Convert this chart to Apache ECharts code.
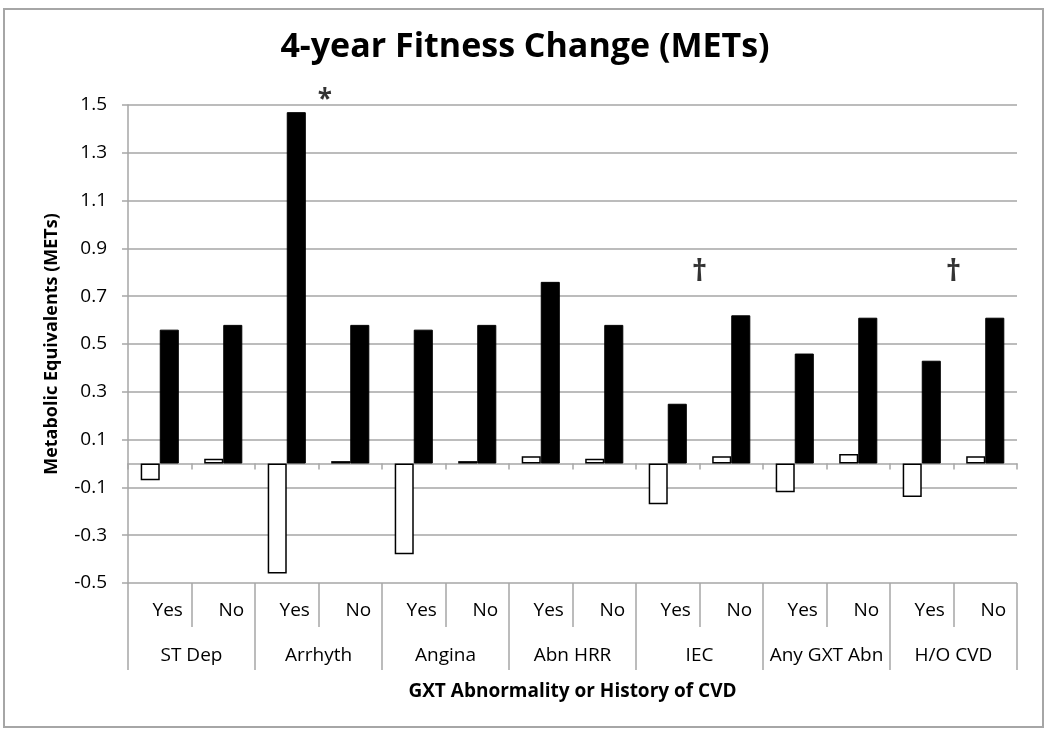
<!DOCTYPE html>
<html>
<head>
<meta charset="utf-8">
<script src="https://cdn.jsdelivr.net/npm/echarts@6/dist/echarts.min.js"></script>
<style>
  html, body { margin: 0; padding: 0; background: #fff; }
  #chart { width: 1050px; height: 740px; }
</style>
</head>
<body>
<div id="chart"></div>
<script>
// ---- data ----
const subLabels = ['Yes','No','Yes','No','Yes','No','Yes','No','Yes','No','Yes','No','Yes','No'];
const groupLabels = ['ST Dep','Arrhyth','Angina','Abn HRR','IEC','Any GXT Abn','H/O CVD'];
const whiteValues = [-0.07, 0.02, -0.46, 0.01, -0.38, 0.01, 0.03, 0.02, -0.17, 0.03, -0.12, 0.04, -0.14, 0.03];
const blackValues = [0.56, 0.58, 1.47, 0.58, 0.56, 0.58, 0.76, 0.58, 0.25, 0.62, 0.46, 0.61, 0.43, 0.61];
const yTicks = [-0.5, -0.3, -0.1, 0.1, 0.3, 0.5, 0.7, 0.9, 1.1, 1.3, 1.5];
// significance marks: position on category boundary index, value height, symbol
const markPos = [3.1, 9, 13];
const markVal = [1.52, 0.80, 0.80];
const markText = ['*', '\u2020', '\u2020'];

const FONT = "'Open Sans', sans-serif";
const GRID = '#a6a6a6';

const chart = echarts.init(document.getElementById('chart'), null, { renderer: 'canvas' });

const option = {
  backgroundColor: '#fff',
  animation: false,
  title: {
    text: '4-year Fitness Change (METs)',
    left: 'center',
    top: 25,
    textStyle: { fontFamily: FONT, fontWeight: 'bold', fontSize: 34, color: '#000' }
  },
  graphic: [{
    type: 'rect',
    shape: { x: 4, y: 9, width: 1039, height: 718 },
    style: { fill: 'none', stroke: '#a6a6a6', lineWidth: 2 },
    silent: true
  }],
  grid: { left: 128, right: 33, top: 105, bottom: 157, containLabel: false },
  xAxis: [
    {
      type: 'category', data: subLabels, position: 'bottom', boundaryGap: true,
      axisLine: { show: false, onZero: false },
      axisTick: { show: true, interval: 0, length: 44, lineStyle: { color: GRID, width: 1.5 } },
      axisLabel: { interval: 0, margin: 18, fontFamily: FONT, fontSize: 19, color: '#000', padding: [0, 0, 0, 16] },
      splitLine: { show: false }
    },
    {
      type: 'category', data: groupLabels, position: 'bottom', boundaryGap: true,
      axisLine: { show: false, onZero: false },
      axisTick: { show: true, interval: 0, length: 87, lineStyle: { color: GRID, width: 1.5 } },
      axisLabel: { interval: 0, margin: 63, fontFamily: FONT, fontSize: 19, color: '#000' },
      name: 'GXT Abnormality or History of CVD',
      nameLocation: 'middle', nameGap: 99,
      nameTextStyle: { fontFamily: FONT, fontWeight: 'bold', fontSize: 19, color: '#000' },
      splitLine: { show: false }
    },
    {
      type: 'category', data: subLabels, position: 'bottom', boundaryGap: true,
      axisLine: { show: true, onZero: true, lineStyle: { color: GRID, width: 1.5 } },
      axisTick: { show: true, interval: 0, length: 6, lineStyle: { color: GRID, width: 1.5 } },
      axisLabel: { show: false },
      splitLine: { show: false }
    },
    {
      type: 'value', min: 0, max: 14, show: false,
      axisLine: { onZero: false }
    }
  ],
  yAxis: [{
    type: 'value', min: -0.5, max: 1.5,
    axisLine: { show: true, onZero: false, lineStyle: { color: GRID, width: 1.5 } },
    axisTick: { show: true, length: 6, customValues: yTicks, lineStyle: { color: GRID, width: 1.5 } },
    axisLabel: { customValues: yTicks, margin: 21, fontFamily: FONT, fontSize: 19, color: '#000',
      formatter: v => v.toFixed(1) },
    splitLine: { show: true, lineStyle: { color: GRID, width: 1.5 } },
    name: 'Metabolic Equivalents (METs)',
    nameLocation: 'middle', nameGap: 67,
    nameTextStyle: { fontFamily: FONT, fontWeight: 'bold', fontSize: 18, color: '#000' }
  }],
  series: [
    {
      name: 'Series 1', type: 'bar', xAxisIndex: 0, yAxisIndex: 0,
      data: whiteValues, barGap: '0%', barCategoryGap: '40%',
      itemStyle: { color: '#fff', borderColor: '#000', borderWidth: 1.5 },
      z: 3
    },
    {
      name: 'Series 2', type: 'bar', xAxisIndex: 0, yAxisIndex: 0,
      data: blackValues, barGap: '0%', barCategoryGap: '40%',
      itemStyle: { color: '#000', borderColor: '#000', borderWidth: 1 },
      z: 3
    },
    {
      name: 'marks', type: 'scatter', xAxisIndex: 3, yAxisIndex: 0,
      clip: false,
      data: markPos.map((p, i) => ({
        value: [p, markVal[i]],
        label: { fontSize: markText[i] === '*' ? 26 : 30 }
      })),
      symbolSize: 0,
      label: {
        show: true, position: 'inside',
        formatter: p => markText[p.dataIndex],
        fontFamily: FONT, fontWeight: 'bold', color: '#000'
      },
      z: 5
    }
  ]
};
chart.setOption(option);
</script>
</body>
</html>
